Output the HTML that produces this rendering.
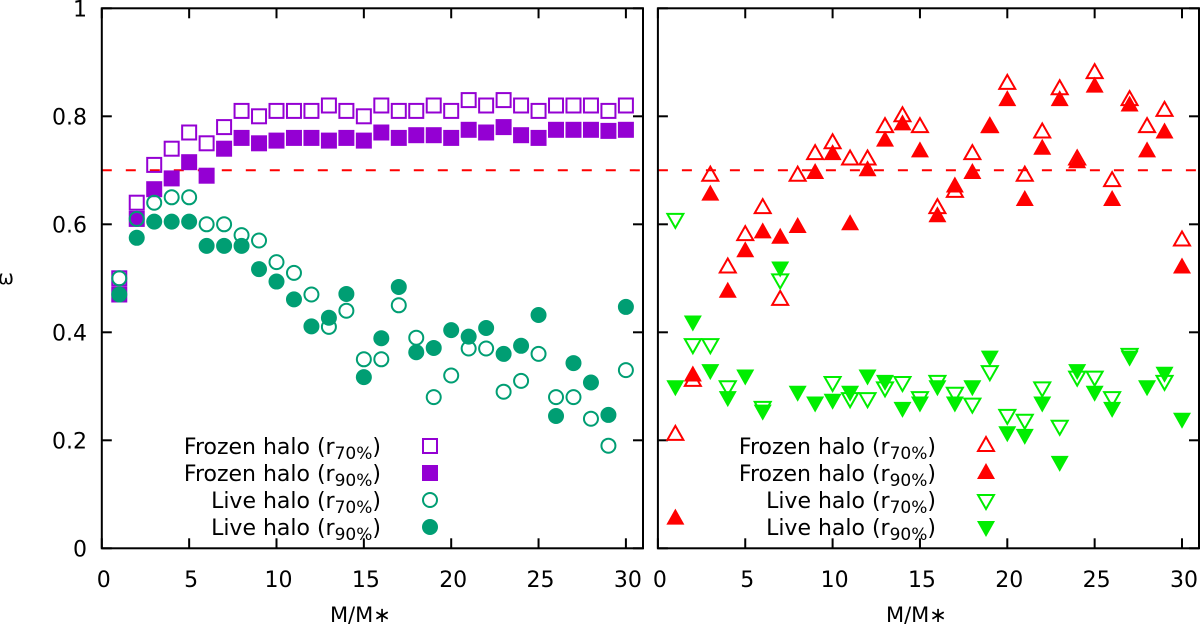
<!DOCTYPE html>
<html><head><meta charset="utf-8"><style>
html,body{margin:0;padding:0;background:#fff;}
svg{display:block;font-family:"DejaVu Sans","Liberation Sans",sans-serif;}
</style></head><body>
<svg id="chart" width="1200" height="627" viewBox="0 0 1200 627" xmlns="http://www.w3.org/2000/svg"></svg>
<script>
const xs = [1,2,3,4,5,6,7,8,9,10,11,12,13,14,15,16,17,18,19,20,21,22,23,24,25,26,27,28,29,30];
const frozen70L = [0.50,0.64,0.71,0.74,0.77,0.75,0.78,0.81,0.80,0.81,0.81,0.81,0.82,0.81,0.80,0.82,0.81,0.81,0.82,0.81,0.83,0.82,0.83,0.82,0.81,0.82,0.82,0.82,0.81,0.82];
const frozen90L = [0.47,0.61,0.665,0.685,0.715,0.69,0.74,0.76,0.75,0.755,0.76,0.76,0.755,0.76,0.755,0.77,0.76,0.765,0.765,0.76,0.775,0.77,0.78,0.765,0.76,0.775,0.775,0.775,0.773,0.775];
const live70L = [0.50,0.61,0.64,0.65,0.65,0.60,0.60,0.58,0.57,0.53,0.51,0.47,0.41,0.44,0.35,0.35,0.45,0.39,0.28,0.32,0.37,0.37,0.29,0.31,0.36,0.28,0.28,0.24,0.19,0.33];
const live90L = [0.47,0.575,0.605,0.605,0.605,0.56,0.56,0.56,0.517,0.494,0.461,0.411,0.427,0.471,0.317,0.389,0.484,0.363,0.371,0.404,0.392,0.408,0.36,0.375,0.432,0.245,0.343,0.307,0.247,0.447];
const frozen70R = [0.21,0.31,0.69,0.52,0.58,0.63,0.46,0.69,0.73,0.75,0.72,0.72,0.78,0.80,0.78,0.63,0.66,0.73,0.78,0.86,0.69,0.77,0.85,0.72,0.88,0.68,0.83,0.78,0.81,0.57];
const frozen90R = [0.055,0.32,0.655,0.475,0.55,0.585,0.575,0.595,0.695,0.73,0.60,0.70,0.755,0.785,0.735,0.615,0.67,0.695,0.78,0.83,0.645,0.74,0.83,0.715,0.855,0.645,0.82,0.735,0.77,0.52];
const live70R = [0.61,0.378,0.378,0.30,null,0.262,0.498,null,null,0.308,0.278,0.278,0.298,0.308,0.28,0.31,0.288,0.268,0.328,0.247,0.238,0.298,0.227,0.318,0.318,0.28,0.36,null,0.31,null];
const live90R = [0.30,0.42,0.33,0.28,0.32,0.255,0.52,0.29,0.27,0.275,0.29,0.32,0.31,0.26,0.27,0.30,0.27,0.30,0.355,0.215,0.21,0.27,0.16,0.33,0.29,0.26,0.355,0.30,0.325,0.24];
const xTicks = [0,5,10,15,20,25,30];
const yTicks = [0,0.2,0.4,0.6,0.8,1];
const yTickLabels = ["0","0.2","0.4","0.6","0.8","1"];
const legendLabels = ["Frozen halo (r","Frozen halo (r","Live halo (r","Live halo (r"];
const legendSubs = ["70%","90%","70%","90%"];

const NS="http://www.w3.org/2000/svg";
const svg=document.getElementById('chart');
function mk(tag,attrs,parent){const e=document.createElementNS(NS,tag);for(const k in attrs)e.setAttribute(k,attrs[k]);(parent||svg).appendChild(e);return e;}
const Y0=548.3, YH=540, UX=17.47;
const yS=v=>Y0-v*YH;
const PURPLE="#9400d3", TEAL="#009e73", RED="#ff0000", GREEN="#00ee00";

function marker(g,type,cx,cy,color){
  let e;
  if(type==='osq'){e=mk('rect',{x:cx-7,y:cy-7,width:14,height:14,fill:'none',stroke:color,'stroke-width':2},g);}
  else if(type==='fsq'){e=mk('rect',{x:cx-8,y:cy-8,width:16,height:16,fill:color},g);}
  else if(type==='oci'){e=mk('circle',{cx:cx,cy:cy,r:7,fill:'none',stroke:color,'stroke-width':2},g);}
  else if(type==='fci'){e=mk('circle',{cx:cx,cy:cy,r:8,fill:color},g);}
  else if(type==='otu'){e=mk('polygon',{points:`${cx},${cy-9} ${cx-8},${cy+5} ${cx+8},${cy+5}`,fill:'none',stroke:color,'stroke-width':2},g);}
  else if(type==='ftu'){e=mk('polygon',{points:`${cx},${cy-10} ${cx-9},${cy+6} ${cx+9},${cy+6}`,fill:color},g);}
  else if(type==='otd'){e=mk('polygon',{points:`${cx},${cy+9} ${cx-8},${cy-5} ${cx+8},${cy-5}`,fill:'none',stroke:color,'stroke-width':2},g);}
  else if(type==='ftd'){e=mk('polygon',{points:`${cx},${cy+10} ${cx-9},${cy-6} ${cx+9},${cy-6}`,fill:color},g);}
  return e;
}

function panel(name,x0,x1,showY,series,legendTextX,legendMarkX){
  const g=mk('g',{});
  
  
  const xS=v=>x0+v*UX;
  const th=mk('line',{x1:x0,x2:x1,y1:yS(0.7),y2:yS(0.7),stroke:RED,'stroke-width':2,'stroke-dasharray':'10,14'},g);
  
  
  xTicks.forEach(t=>{
    const X=xS(t);
    mk('line',{x1:X,x2:X,y1:Y0,y2:Y0-10,stroke:'#000','stroke-width':2},g);
    mk('line',{x1:X,x2:X,y1:yS(1),y2:yS(1)+10,stroke:'#000','stroke-width':2},g);
    const tl=mk('text',{x:X+2,y:587,'text-anchor':'middle','font-size':22,fill:'#000'},g);
    tl.textContent=t;
    
    
  });
  yTicks.forEach((t,i)=>{
    const Y=yS(t);
    mk('line',{x1:x0,x2:x0+10,y1:Y,y2:Y,stroke:'#000','stroke-width':2},g);
    mk('line',{x1:x1,x2:x1-10,y1:Y,y2:Y,stroke:'#000','stroke-width':2},g);
    if(showY){
      const tl=mk('text',{x:87,y:Y+8,'text-anchor':'end','font-size':22,fill:'#000'},g);
      tl.textContent=yTickLabels[i];
      
      
    }
  });
  series.forEach((s,si)=>{
    const sg=mk('g',{},g);
    
    
    s.vals.forEach((v,i)=>{
      if(v===null)return;
      const m=marker(sg,s.type,xS(xs[i]),yS(v),s.color);
      
      
    });
    const ly=446+si*27;
    const lt=mk('text',{x:legendTextX,y:ly+8,'text-anchor':'end','font-size':22,fill:'#000'},g);
    
    
    const a=mk('tspan',{},lt);a.textContent=legendLabels[si];
    const b=mk('tspan',{'font-size':17,dy:5},lt);b.textContent=legendSubs[si];
    const c=mk('tspan',{dy:-5},lt);c.textContent=')';
    const lm=marker(g,s.type,legendMarkX,ly,s.color);
    
    
  });
  const fr=mk('rect',{x:x0,y:yS(1),width:x1-x0,height:YH,fill:'none',stroke:'#000','stroke-width':2},g);
  
  
  const xt=mk('text',{x:(x0+x1)/2-12,y:622,'text-anchor':'middle','font-size':21,fill:'#000'},g);
  xt.textContent='M/M∗';
  
  
}

panel('left-panel',101.8,643,true,[
  {name:'frozen-r70',vals:frozen70L,type:'osq',color:PURPLE},
  {name:'frozen-r90',vals:frozen90L,type:'fsq',color:PURPLE},
  {name:'live-r70',vals:live70L,type:'oci',color:TEAL},
  {name:'live-r90',vals:live90L,type:'fci',color:TEAL}
],381,430);
panel('right-panel',657.9,1199,false,[
  {name:'frozen-r70',vals:frozen70R,type:'otu',color:RED},
  {name:'frozen-r90',vals:frozen90R,type:'ftu',color:RED},
  {name:'live-r70',vals:live70R,type:'otd',color:GREEN},
  {name:'live-r90',vals:live90R,type:'ftd',color:GREEN}
],936,986);

const yt=mk('text',{x:6,y:284,'text-anchor':'middle','font-size':19,fill:'#000'});
yt.textContent='ω';


</script>
</body></html>
